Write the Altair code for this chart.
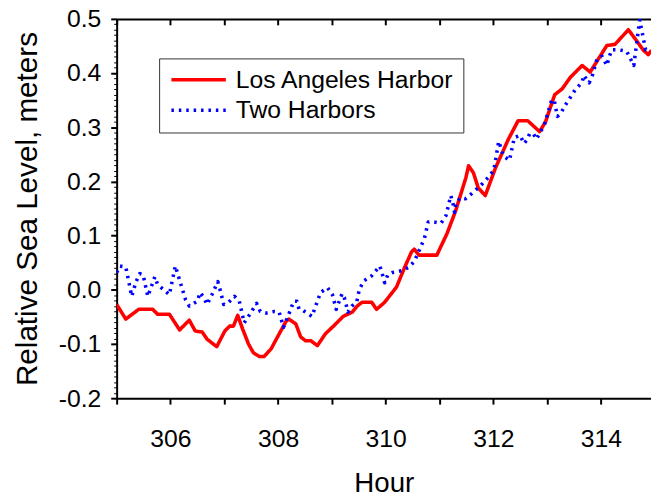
import altair as alt
import pandas as pd

FONT = "Liberation Sans"
SITES = ["Los Angeles Harbor", "Two Harbors"]
COLORS = ["#ff0000", "#0000ff"]

la_hour = [305.0, 305.17, 305.41, 305.67, 305.76, 305.98, 306.17, 306.35, 306.46, 306.59,
           306.68, 306.86, 307.01, 307.10, 307.17, 307.25, 307.34, 307.45, 307.54, 307.65,
           307.74, 307.87, 308.00, 308.15, 308.20, 308.33, 308.42, 308.51, 308.61, 308.73,
           308.88, 309.03, 309.21, 309.38, 309.47, 309.56, 309.74, 309.83, 309.98, 310.09,
           310.20, 310.35, 310.48, 310.53, 310.62, 310.95, 311.14, 311.30, 311.49, 311.54,
           311.63, 311.72, 311.85, 312.04, 312.28, 312.46, 312.64, 312.86, 312.97, 313.14,
           313.28, 313.43, 313.65, 313.80, 314.11, 314.26, 314.51, 314.66, 314.79, 314.88,
           314.94]
la_level = [-0.027, -0.054, -0.036, -0.036, -0.045, -0.045, -0.074, -0.056, -0.076, -0.078,
            -0.091, -0.105, -0.076, -0.067, -0.067, -0.047, -0.072, -0.100, -0.116, -0.123,
            -0.123, -0.109, -0.085, -0.058, -0.054, -0.063, -0.087, -0.094, -0.094, -0.103,
            -0.081, -0.067, -0.049, -0.041, -0.030, -0.023, -0.023, -0.036, -0.023, -0.009,
            0.005, 0.041, 0.070, 0.075, 0.064, 0.064, 0.104, 0.146, 0.207, 0.229,
            0.216, 0.188, 0.174, 0.225, 0.278, 0.312, 0.312, 0.292, 0.310, 0.360,
            0.371, 0.392, 0.414, 0.402, 0.451, 0.453, 0.480, 0.460, 0.442, 0.434,
            0.442]

two_hour = [305.0, 305.06, 305.17, 305.28, 305.36, 305.43, 305.49, 305.58, 305.71, 305.76,
            305.98, 306.09, 306.28, 306.35, 306.50, 306.55, 306.62, 306.68, 306.77, 306.88,
            306.92, 306.99, 307.08, 307.19, 307.28, 307.37, 307.45, 307.60, 307.67, 307.78,
            307.93, 308.02, 308.10, 308.18, 308.29, 308.35, 308.39, 308.46, 308.63, 308.73,
            308.79, 308.92, 309.01, 309.08, 309.19, 309.23, 309.30, 309.37, 309.46, 309.51,
            309.60, 309.74, 309.89, 309.93, 309.98, 310.04, 310.13, 310.29, 310.42, 310.53,
            310.60, 310.72, 310.79, 310.90, 311.03, 311.12, 311.21, 311.25, 311.28, 311.30,
            311.39, 311.48, 311.59, 311.76, 311.90, 312.01, 312.10, 312.19, 312.30, 312.39,
            312.50, 312.57, 312.62, 312.68, 312.75, 312.80, 312.88, 312.95, 313.08, 313.13,
            313.19, 313.25, 313.32, 313.52, 313.65, 313.68, 313.78, 313.83, 313.93, 314.02,
            314.11, 314.15, 314.20, 314.33, 314.48, 314.61, 314.72, 314.83, 314.90]
two_level = [0.032, 0.044, 0.042, -0.012, 0.015, 0.030, 0.028, -0.012, 0.024, 0.010,
             -0.009, 0.044, -0.018, -0.030, -0.021, -0.005, -0.014, -0.027, -0.009, 0.015,
             0.001, -0.027, -0.023, -0.012, -0.021, -0.061, -0.049, -0.025, -0.040, -0.043,
             -0.040, -0.041, -0.069, -0.050, -0.021, -0.021, -0.036, -0.038, -0.049, -0.021,
             -0.005, 0.004, -0.009, -0.036, -0.007, -0.014, -0.041, -0.030, -0.023, 0.001,
             0.017, 0.026, 0.044, 0.032, 0.013, 0.028, 0.032, 0.035, 0.041, 0.052,
             0.068, 0.095, 0.125, 0.125, 0.123, 0.137, 0.174, 0.159, 0.143, 0.159,
             0.170, 0.168, 0.177, 0.192, 0.207, 0.221, 0.274, 0.247, 0.239, 0.281,
             0.285, 0.270, 0.276, 0.289, 0.287, 0.278, 0.292, 0.305, 0.349, 0.351,
             0.320, 0.325, 0.338, 0.369, 0.383, 0.396, 0.382, 0.392, 0.427, 0.431,
             0.414, 0.429, 0.443, 0.443, 0.440, 0.414, 0.498, 0.443, 0.447]

HOUR_TICKS = [305, 306, 307, 308, 309, 310, 311, 312, 313, 314, 315]
LEVEL_TICKS = [-0.2, -0.1, 0.0, 0.1, 0.2, 0.3, 0.4, 0.5]
MINOR_LEVEL_TICKS = [round(-0.2 + 0.01 * i, 2) for i in range(71)]

df = pd.concat([
    pd.DataFrame({"hour": la_hour, "level": la_level, "site": SITES[0],
                  "idx": list(range(len(la_hour)))}),
    pd.DataFrame({"hour": two_hour, "level": two_level, "site": SITES[1],
                  "idx": list(range(len(two_hour)))}),
], ignore_index=True)

x_scale = alt.Scale(domain=[305, 314.93], nice=False, zero=False)
y_scale = alt.Scale(domain=[-0.2, 0.5], nice=False, zero=False)

# legend symbol: a long horizontal stroke drawn as a custom path
legend_common = dict(
    orient="none", legendX=43, legendY=40,
    strokeColor="#333333", fillColor="#ffffff", padding=9,
    labelFont=FONT, labelFontSize=25, labelColor="#000000",
    symbolType="M-3.06,0H3.06", symbolSize=324, symbolStrokeWidth=3.5,
    symbolOffset=18.5, labelOffset=25, rowPadding=5, labelLimit=400,
)
try:
    legend = alt.Legend(**legend_common,
                        encode={"symbols": {"update": {"strokeCap": {"value": "round"}}}})
    legend.to_dict()
    dot_dash = [0.1, 7.5]
    cap = "round"
except Exception:
    legend = alt.Legend(**legend_common)
    dot_dash = [2.5, 5]
    cap = "butt"

x_axis_bottom = alt.Axis(
    orient="bottom", values=HOUR_TICKS, format="d",
    labelExpr="datum.value % 2 == 0 ? datum.label : ''",
    tickSize=6, tickWidth=2, tickColor="black", domainColor="black", domainWidth=2,
    labelFont=FONT, labelFontSize=25, labelColor="black", labelPadding=23,
    labelOverlap=False, labelFlush=False,
    title="Hour", titleFont=FONT, titleFontSize=28, titleFontWeight="normal",
    titleColor="black", titlePadding=18, grid=False,
)
y_axis_main = alt.Axis(
    orient="left", values=LEVEL_TICKS,
    labelExpr="replace(format(datum.value, '.1f'), '\u2212', '-')",
    tickSize=6, tickWidth=2, tickColor="black", domainColor="black", domainWidth=2,
    labelFont=FONT, labelFontSize=25, labelColor="black", labelPadding=10,
    labelOverlap=False, labelFlush=False,
    title="Relative Sea Level, meters", titleFont=FONT, titleFontSize=30,
    titleFontWeight="normal", titleColor="black", titlePadding=16, grid=False,
)

lines = alt.Chart(df).mark_line(strokeWidth=3.6, strokeCap=cap, strokeJoin="round",
                                clip=True).encode(
    x=alt.X("hour:Q", scale=x_scale, axis=x_axis_bottom),
    y=alt.Y("level:Q", scale=y_scale, axis=y_axis_main),
    color=alt.Color("site:N", title=None,
                    scale=alt.Scale(domain=SITES, range=COLORS), legend=legend),
    strokeDash=alt.StrokeDash("site:N", title=None,
                              scale=alt.Scale(domain=SITES, range=[[1, 0], dot_dash]),
                              legend=legend),
    order=alt.Order("idx:Q"),
)

frame = alt.Chart(df).mark_line(opacity=0).encode(
    x=alt.X("hour:Q", scale=x_scale,
            axis=alt.Axis(orient="top", labels=False, ticks=False, domain=True,
                          domainColor="black", domainWidth=2, grid=False, title=None)),
    y=alt.Y("level:Q", scale=y_scale,
            axis=alt.Axis(orient="left", values=MINOR_LEVEL_TICKS, labels=False,
                          tickSize=3, tickWidth=1, tickColor="black", domain=False,
                          grid=False, title=None)),
    detail="site:N",
)

top_ticks = alt.Chart(df).mark_line(opacity=0).encode(
    x=alt.X("hour:Q", scale=x_scale,
            axis=alt.Axis(orient="top", offset=-6, values=HOUR_TICKS, labels=False,
                          ticks=True, tickSize=6, tickWidth=2, tickColor="black",
                          domain=False, grid=False, title=None)),
    y=alt.Y("level:Q", scale=y_scale, axis=None),
    detail="site:N",
)

chart = alt.layer(frame, top_ticks, lines).resolve_axis(
    x="independent", y="independent"
).properties(
    width=541, height=384,
    autosize=alt.AutoSizeParams(type="none"),
    padding={"left": 110, "top": 8, "right": 0, "bottom": 97},
).configure_view(stroke="transparent")

chart.save("out.html", embed_options={"renderer": "svg", "actions": False})
